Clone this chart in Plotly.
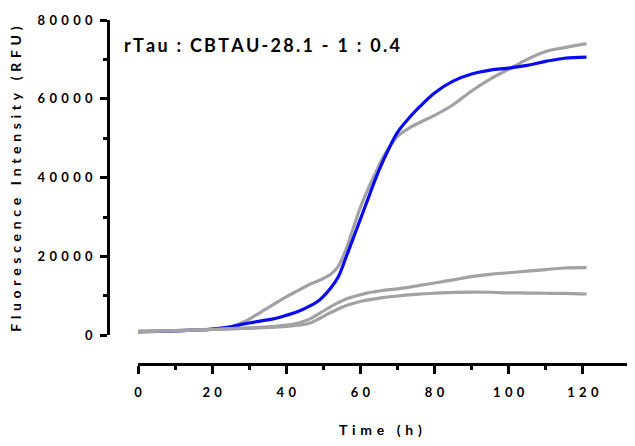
import plotly.graph_objects as go

# time points (h) shared by all traces
time_h = [0, 5, 10, 15, 20, 25, 28, 31, 34, 37, 40, 43, 46, 49, 52, 54, 56, 58, 60,
          62, 64, 66, 68, 70, 73, 76, 80, 85, 90, 95, 100, 105, 110, 115, 121]

# fluorescence (RFU)
gray_high = [1000, 1100, 1200, 1400, 1600, 2100, 3200, 4700, 6400, 8100, 9800, 11300,
             12800, 14000, 15500, 17500, 21500, 27000, 32500, 37000, 41000, 45000, 48000,
             50500, 52500, 54000, 55800, 58500, 62000, 65000, 67500, 70000, 72000, 73000, 74000]
blue = [900, 1000, 1150, 1350, 1600, 2200, 2800, 3300, 3800, 4300, 5100, 6000, 7300,
        9000, 12000, 14800, 19500, 24500, 29500, 34500, 39500, 44000, 48000, 51500,
        55000, 58000, 61500, 64500, 66300, 67300, 67800, 68500, 69500, 70300, 70600]
gray_mid = [1000, 1100, 1200, 1350, 1500, 1700, 1800, 1950, 2100, 2300, 2600, 3100,
            4000, 5600, 7300, 8300, 9200, 9800, 10300, 10800, 11100, 11400, 11600, 11800,
            12200, 12700, 13300, 14100, 14900, 15500, 15900, 16300, 16700, 17100, 17200]
gray_low = [1000, 1100, 1200, 1350, 1500, 1650, 1750, 1850, 1950, 2100, 2300, 2600,
            3000, 4300, 5800, 6700, 7500, 8100, 8600, 9000, 9300, 9600, 9800, 10000,
            10300, 10500, 10700, 10900, 11000, 10950, 10800, 10750, 10700, 10650, 10500]

y_ticks = [0, 20000, 40000, 60000, 80000]
x_ticks = [0, 20, 40, 60, 80, 100, 120]

title_text = "rTau : CBTAU-28.1 - 1 : 0.4"
y_title = "Fluorescence Intensity (RFU)"
x_title = "Time (h)"

GRAY = "#A2A2A6"
BLUE = "#0A0AF0"
FONT = "Lato"


def spaced(s, sep="\u2004"):
    # GraphPad-style letter spacing
    return sep.join(s)


fig = go.Figure()
for vals, col in [(gray_high, GRAY), (blue, BLUE), (gray_mid, GRAY), (gray_low, GRAY)]:
    fig.add_trace(go.Scatter(x=time_h, y=vals, mode="lines", line_shape="spline",
                             line=dict(color=col, width=3.2), showlegend=False))

# page body has an 8px margin, so the figure is drawn 8px in from the window edge
OFF = 8
W, H = 627, 438
ml, mr, mt, mb = 108 - OFF, 4, 15 - OFF, H - (364 - OFF)
pw, ph = W - ml - mr, H - mt - mb


def px_x(x):
    return (x - OFF - ml) / pw


def px_y(y):
    return (H - mb - (y - OFF)) / ph


fig.update_layout(
    width=W, height=H,
    margin=dict(l=ml, r=mr, t=mt, b=mb),
    paper_bgcolor="white", plot_bgcolor="white",
    font=dict(family=FONT, color="black"),
)
fig.update_xaxes(
    domain=[30 / pw, 1], range=[0, 133], anchor="free", position=0,
    showgrid=False, zeroline=False,
    showline=True, linecolor="black", linewidth=2.5,
    ticks="outside", ticklen=8, tickwidth=2.5, tickcolor="black",
    tickvals=x_ticks, ticktext=[spaced(str(v)) for v in x_ticks],
    tickfont=dict(family=FONT, size=13, weight="bold"), ticklabelstandoff=8,
    ticklabeloverflow="allow",
    minor=dict(tickvals=[10, 30, 50, 70, 90, 110], ticks="outside", ticklen=4,
               tickwidth=2.5, tickcolor="black"),
)
fig.update_yaxes(
    domain=[29 / ph, 1], range=[0, 80000], anchor="free", position=0,
    showgrid=False, zeroline=False,
    showline=True, linecolor="black", linewidth=2.5,
    ticks="outside", ticklen=7, tickwidth=2.5, tickcolor="black",
    tickvals=y_ticks, ticktext=[spaced(str(v)) for v in y_ticks],
    tickfont=dict(family=FONT, size=13, weight="bold"), ticklabelstandoff=5,
    ticklabeloverflow="allow",
    minor=dict(tickvals=[10000, 30000, 50000, 70000], ticks="outside", ticklen=4,
               tickwidth=2.5, tickcolor="black"),
)

fig.add_annotation(text=spaced(title_text, "\u2009"), xref="paper", yref="paper",
                   x=px_x(122), y=px_y(40), xanchor="left", yanchor="middle",
                   showarrow=False, font=dict(family=FONT, size=18, weight="bold"))
fig.add_annotation(text=spaced(y_title, "\u2004"), xref="paper", yref="paper",
                   x=px_x(16), y=px_y(177), textangle=-90,
                   xanchor="center", yanchor="middle", showarrow=False,
                   font=dict(family=FONT, size=14, weight="bold"))
fig.add_annotation(text=spaced(x_title, "\u2004"), xref="paper", yref="paper",
                   x=px_x(380), y=px_y(430),
                   xanchor="center", yanchor="middle", showarrow=False,
                   font=dict(family=FONT, size=14, weight="bold"))

fig.write_html("out.html")
